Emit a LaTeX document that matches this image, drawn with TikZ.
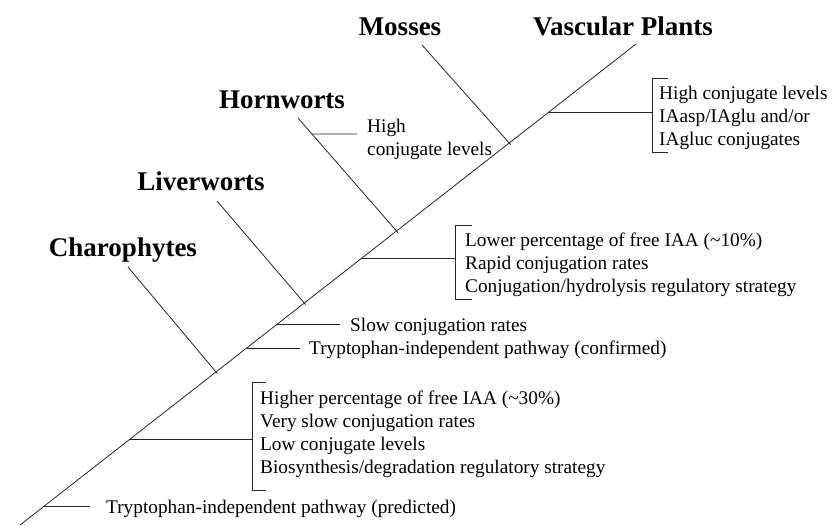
\documentclass[tikz,border=0pt]{standalone}
\usepackage{fontspec}
\setmainfont{Liberation Serif}
\usetikzlibrary{calc}

\tikzset{
  ln/.style={line width=0.8pt, black!85},
  clade/.style={font=\fontsize{27}{30}\selectfont\bfseries, inner sep=0pt, anchor=base},
  trait/.style={font=\fontsize{19.3}{22.7}\selectfont, inner sep=0pt, anchor=base west, align=left},
}

\begin{document}
\begin{tikzpicture}[x=1pt, y=-1pt]
  \useasboundingbox (0,0) rectangle (832,525);

  % main stem
  \coordinate (root) at (20,525);
  \coordinate (vasc) at (636,44);
  \draw[ln] (root) -- (vasc);

  % clade names
  \node[clade] (charo) at (123,256) {Charophytes};
  \node[clade] (liver) at (201,190) {Liverworts};
  \node[clade] (horn) at (282,108) {Hornworts};
  \node[clade] (moss) at (400,35) {Mosses};
  \node[clade] (vascp) at (623,35) {Vascular Plants};

  % side branches
  \coordinate (charotop) at (128,267);
  \coordinate (charojn) at (216.0,372);
  \coordinate (livertop) at (217,201);
  \coordinate (liverjn) at (304.3,303);
  \coordinate (horntop) at (298,118);
  \coordinate (hornjn) at (396.5,231);
  \coordinate (mosstop) at (422,45);
  \coordinate (mossjn) at (509.2,143);
  \draw[ln, shorten >=-2pt] (charotop) -- (charojn);
  \draw[ln, shorten >=-2pt] (livertop) -- (liverjn);
  \draw[ln, shorten >=-2pt] (horntop) -- (hornjn);
  \draw[ln, shorten >=-2pt] (mosstop) -- (mossjn);

  % single traits
  \node[trait] (predicted) at (106,513) {Tryptophan-independent pathway (predicted)};
  \coordinate (predjn) at (44.3,506);
  \draw[ln] (predjn) -- (90,506);

  \node[trait] (confirmed) at (309,354) {Tryptophan-independent pathway (confirmed)};
  \coordinate (confjn) at (246.7,348);
  \draw[ln] (confjn) -- (300,348);

  \node[trait] (slow) at (350,331) {Slow conjugation rates};
  \coordinate (slowjn) at (277.4,324);
  \draw[ln] (slowjn) -- (340,324);

  % base of a multi-line node is its last line
  \node[trait] (hornhigh) at (367,155) {High\\conjugate levels};
  \coordinate (hornpt) at ($(horntop)!0.1416!(hornjn)$);
  \draw[ln] (hornpt) -- (357,134);

  % bracketed traits
  \node[trait] (charolist) at (260,473) {Higher percentage of free IAA (\textasciitilde30\%)\\
    Very slow conjugation rates\\Low conjugate levels\\
    Biosynthesis/degradation regulatory strategy};
  \coordinate (charolistjn) at (130.1,439);
  \draw[ln] (charolistjn) -- (252,439);
  \draw[ln] (266,382) -- (252,382) -- (252,490) -- (266,490);

  \node[trait] (hornlist) at (465,292) {Lower percentage of free IAA (\textasciitilde10\%)\\
    Rapid conjugation rates\\Conjugation/hydrolysis regulatory strategy};
  \coordinate (hornlistjn) at (361.9,258);
  \draw[ln] (hornlistjn) -- (455,258);
  \draw[ln] (472,225) -- (455,225) -- (455,299) -- (472,299);

  \node[trait] (vasclist) at (659,145) {High conjugate levels\\IAasp/IAglu and/or\\IAgluc conjugates};
  \coordinate (vasclistjn) at (548.9,112);
  \draw[ln] (vasclistjn) -- (652,112);
  \draw[ln] (668,78) -- (652,78) -- (652,152) -- (668,152);
\end{tikzpicture}
\end{document}
